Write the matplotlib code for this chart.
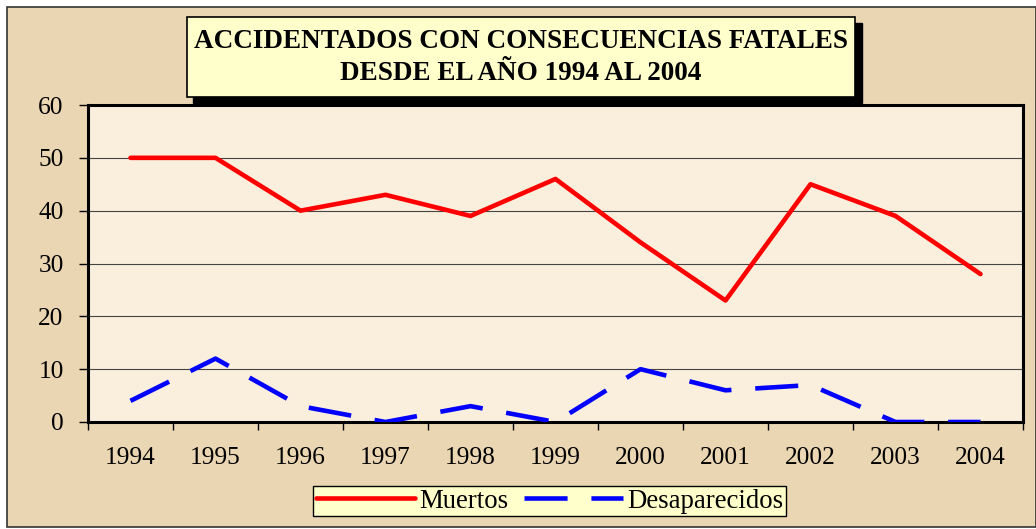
import matplotlib.pyplot as plt
from matplotlib.patches import Rectangle

# data
years = ['1994', '1995', '1996', '1997', '1998', '1999', '2000', '2001', '2002', '2003', '2004']
muertos = [50, 50, 40, 43, 39, 46, 34, 23, 45, 39, 28]
desaparecidos = [4, 12, 3, 0, 3, 0, 10, 6, 7, 0, 0]

W, H = 1036, 529
plt.rcParams['font.family'] = 'Liberation Serif'

fig = plt.figure(figsize=(W / 100, H / 100), dpi=100, facecolor='white')

# parchment background with thin frame
fig.patches.append(Rectangle((7 / W, 2 / H), (W - 7) / W, (527 - 7) / H,
                             transform=fig.transFigure, facecolor='#EAD6B2',
                             edgecolor='#333333', linewidth=1.2, zorder=-5))

ax = fig.add_axes([88 / W, (H - 422) / H, (1023 - 88) / W, (422 - 105) / H])
ax.set_zorder(1)
ax.set_facecolor('#FAEEDC')
for s in ax.spines.values():
    s.set_linewidth(2.2)
    s.set_color('black')

x = list(range(len(years)))
ax.plot(x, muertos, color='#FF0000', lw=3.3, solid_capstyle='round',
        solid_joinstyle='round', label='Muertos', zorder=3)
ax.plot(x, desaparecidos, color='#0000FF', lw=3.3, dashes=(9.4, 5.2),
        dash_capstyle='butt', label='Desaparecidos', zorder=3)

ax.set_xlim(-0.5, len(years) - 0.5)
ax.set_ylim(0, 60)
ax.set_yticks(range(0, 61, 10))
ax.grid(axis='y', color='#444444', lw=0.8)
ax.set_axisbelow(True)

ax.set_xticks([i - 0.5 for i in range(len(years) + 1)])
ax.set_xticklabels([])
ax.set_xticks(x, minor=True)
ax.set_xticklabels(years, minor=True)
ax.tick_params(axis='x', which='major', direction='out', length=5.5, width=1)
ax.tick_params(axis='x', which='minor', length=0, pad=18, labelsize=18.3)
ax.tick_params(axis='y', direction='out', length=6.5, width=1, pad=11, labelsize=18.3)

# title box with shadow
fig.patches.append(Rectangle((193 / W, (H - 103) / H), (862 - 193) / W, (103 - 23) / H,
                             transform=fig.transFigure, facecolor='black',
                             edgecolor='black', zorder=4))
fig.patches.append(Rectangle((187 / W, (H - 97) / H), (855 - 187) / W, (97 - 17) / H,
                             transform=fig.transFigure, facecolor='#FFFFCC',
                             edgecolor='black', linewidth=1.2, zorder=5))
fig.text(521 / W, (H - 42) / H, 'ACCIDENTADOS CON CONSECUENCIAS FATALES',
         ha='center', va='center', fontsize=19.5, fontweight='bold', zorder=6)
fig.text(521 / W, (H - 73) / H, 'DESDE EL AÑO 1994 AL 2004',
         ha='center', va='center', fontsize=19.5, fontweight='bold', zorder=6)

leg = fig.legend(loc='center', bbox_to_anchor=(549.5 / W, (H - 501) / H), ncol=2,
                 fontsize=19.3, frameon=True, fancybox=False, handlelength=3.7,
                 handletextpad=0.15, columnspacing=0.6, borderpad=0.1,
                 borderaxespad=0)
leg.set_zorder(6)
leg.get_frame().set_facecolor('#FFFFCC')
leg.get_frame().set_edgecolor('black')
leg.get_frame().set_linewidth(1.0)
leg.get_frame().set_alpha(1)

fig.savefig('out.png', dpi=100, facecolor=fig.get_facecolor())
